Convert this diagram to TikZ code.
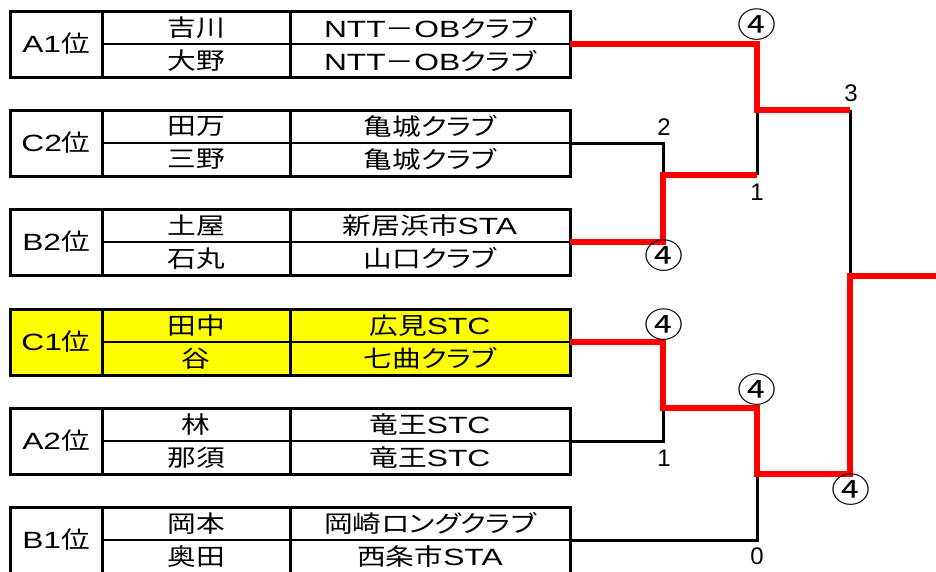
\documentclass[tikz,border=0pt]{standalone}
\usepackage{fontspec}
\setmainfont{Noto Sans CJK JP}[FakeStretch=1.22,RawFeature={+palt}]
\newfontfamily\latf{Liberation Sans}[FakeStretch=1.35]
\newfontfamily\scoref{Liberation Sans}
\newfontfamily\circf{Noto Sans CJK JP}[FakeStretch=1.15]
\definecolor{winred}{RGB}{255,0,0}
\definecolor{hiyel}{RGB}{255,255,0}
\tikzset{
  cellbox/.style={inner sep=0pt, outer sep=0pt, minimum height=33pt, font=\fontsize{23.5}{26}\selectfont},
  border/.style={line width=3pt, black},
  thinline/.style={line width=1.2pt, black},
  blk/.style={line width=3pt, black},
  win/.style={line width=5.5pt, winred},
  score/.style={inner sep=0pt, font=\scoref\fontsize{24}{26}\selectfont},
  circ/.style={inner sep=0pt, font=\circf\fontsize{34}{36}\selectfont},
}
% #1 id, #2 top y, #3 fill, #4 rank, #5 name a, #6 name b, #7 club a, #8 club b
\newcommand\bteam[8]{%
  \node[cellbox, fill=#3, minimum width=92pt, minimum height=66pt] (r#1) at (56,#2+33) {#4};
  \node[cellbox, fill=#3, minimum width=188pt] (na#1) at (196,#2+16.5) {#5};
  \node[cellbox, fill=#3, minimum width=188pt] (nb#1) at (196,#2+49.5) {#6};
  \node[cellbox, fill=#3, minimum width=280pt] (ca#1) at (430,#2+16.5) {#7};
  \node[cellbox, fill=#3, minimum width=280pt] (cb#1) at (430,#2+49.5) {#8};
  \draw[thinline] (na#1.south west) -- (ca#1.south east);
  \draw[border] (r#1.north east) -- (r#1.south east);
  \draw[border] (na#1.north east) -- (nb#1.south east);
  \draw[border] (r#1.north west) rectangle (cb#1.south east);
}
\begin{document}
\begin{tikzpicture}[x=1pt,y=-1pt]
\useasboundingbox (0,0) rectangle (936,571);
\fill[white] (0,0) rectangle (936,571);
\bteam{1}{11}{white}{{\latf A1}位}{吉川}{大野}{{\latf NTT}－{\latf OB}クラブ}{{\latf NTT}－{\latf OB}クラブ}
\bteam{2}{110}{white}{{\latf C2}位}{田万}{三野}{亀城クラブ}{亀城クラブ}
\bteam{3}{209}{white}{{\latf B2}位}{土屋}{石丸}{新居浜市{\latf STA}}{山口クラブ}
\bteam{4}{309}{hiyel}{{\latf C1}位}{田中}{谷}{広見{\latf STC}}{七曲クラブ}
\bteam{5}{408}{white}{{\latf A2}位}{林}{那須}{竜王{\latf STC}}{竜王{\latf STC}}
\bteam{6}{507}{white}{{\latf B1}位}{岡本}{奥田}{岡崎ロングクラブ}{西条市{\latf STA}}

% bracket points
\coordinate (m1) at (663,175);
\coordinate (m1r) at (757,175);
\coordinate (m2) at (757,110);
\coordinate (m2r) at (850,110);
\coordinate (m3) at (663,408);
\coordinate (m3r) at (757,408);
\coordinate (m4) at (757,474);
\coordinate (m4r) at (850,474);
\coordinate (fin) at (850,276);
\coordinate (out) at (936,276);

% losing lines
\draw[blk] (ca2.south east) -| (m1);
\draw[blk] (m1r) -- (m2);
\draw[blk] (m2r) -- (fin);
\draw[blk] (ca5.south east) -| (m3);
\draw[blk] (ca6.south east) -| (m4);

% winning lines
\draw[win] (ca3.south east) -| (m1) -- (m1r);
\draw[win] (ca1.south east) -| (m2) -- (m2r);
\draw[win] (ca4.south east) -| (m3) -- (m3r) -- (m4) -- (m4r) -- (fin) -- (out);

% scores
\node[score] (s1) at (664,127) {2};
\node[circ] (s2) at (664,256) {④};
\node[circ] (s3) at (757,25) {④};
\node[score] (s4) at (757,192) {1};
\node[score] (s5) at (851,93) {3};
\node[circ] (s6) at (664,325) {④};
\node[score] (s7) at (664,458) {1};
\node[circ] (s8) at (757,390) {④};
\node[score] (s9) at (757,556) {0};
\node[circ] (s10) at (851,490) {④};
\end{tikzpicture}
\end{document}
